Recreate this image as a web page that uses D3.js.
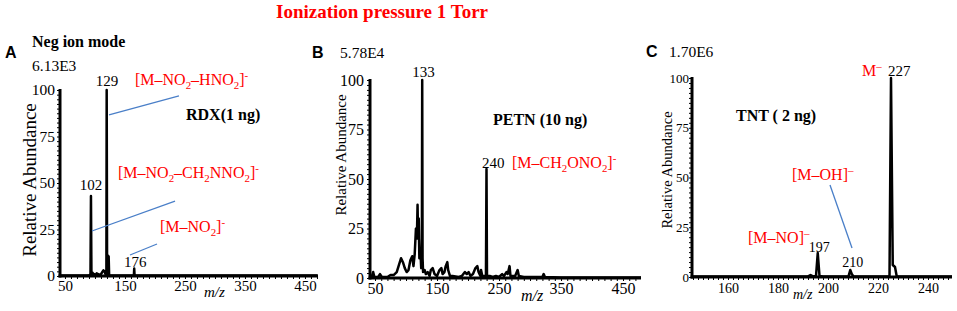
<!doctype html>
<html>
<head>
<meta charset="utf-8">
<script src="https://d3js.org/d3.v7.min.js"></script>
<style>
  body { margin: 0; background: #fff; }
  svg { display: block; }
  svg text { font-family: 'Liberation Serif', 'Times New Roman', serif; fill: #000; }
  svg text.panel { font-family: 'Liberation Sans', Arial, sans-serif; font-weight: 700; }
  svg text.red { fill: #ff0000; }
  svg text.bold { font-weight: 700; }
  .lead { stroke: #4a7fc8; stroke-width: 1.3; }
  .spec { fill: none; stroke: #000; stroke-width: 2.5; stroke-linejoin: round; }
  .axisline { stroke: #000; stroke-width: 3; }
  .minor line { stroke: #000; stroke-width: 1; }
  .minor path, .major path, .major line { display: none; }
</style>
</head>
<body>
<svg width="957" height="311"></svg>
<script>
// tick labels
const yTicks = [0, 25, 50, 75, 100];
const abXTicks = [50, 150, 250, 350, 450];
const cXTicks = [160, 180, 200, 220, 240];

// A: RDX (m/z as drawn, relative abundance)
const aMz = [42, 90, 92.5, 93.3, 94.1, 96, 97.5, 99, 101, 103, 104.5, 106, 108, 110, 112, 114, 116, 117.5, 119, 119.5, 120.2, 121.5, 122.8, 123.6, 126, 164.8, 165.4, 166, 200, 471];
const aAb = [0.3, 0.3, 1, 43, 1, 1.8, 0.5, 1, 0.5, 1.5, 0.5, 1, 0.5, 1, 2, 3, 2.5, 1, 0.5, 100, 1, 11, 10.5, 0.5, 0.3, 0.3, 4, 0.3, 0.3, 0.3];

// B: PETN profile
const bMz = [42, 45, 47, 49, 55, 58, 61, 70, 75, 80, 85, 88, 92, 95, 98, 101, 104, 107, 110, 112, 114, 116, 117.5, 118.6, 119.5, 120.5, 121.5, 123, 124.5, 125.6, 126.1, 126.7, 127.5, 130, 132, 135, 138, 140, 143, 146, 150, 154, 157, 159, 162, 164, 166.6, 168, 171, 175, 185, 190, 195, 198, 201, 204, 208, 212, 215, 217, 220, 221, 223, 228.9, 229.8, 230.6, 235, 240, 245, 250, 255, 258, 262, 264, 267, 268.5, 272, 276, 280, 282, 290, 320, 322, 324, 350, 479];
const bAb = [1, 1, 3, 0.5, 0.5, 2, 0.5, 0.5, 1.5, 1.5, 3, 6, 10, 8, 5, 3, 4, 9, 11, 6, 12, 25, 20, 37, 20, 30, 10, 15, 5, 20, 100, 10, 3, 4, 2, 3, 1, 4, 5, 2, 1, 4, 5, 2, 3, 6, 8, 4, 1, 1, 0.5, 1, 3, 2, 3, 1, 2, 5, 6, 3, 1, 4, 1, 1, 55, 1, 1, 0.5, 1, 0.5, 2, 1, 3, 2, 6, 1, 1, 1, 4, 1, 0.5, 0.5, 2, 0.5, 0.3, 0.3];

// C: TNT profile
const cMz = [145.6, 192, 193, 194, 195.2, 195.9, 196.6, 198, 208.2, 208.9, 209.5, 210.2, 224.6, 225.2, 225.9, 226.8, 227.5, 249.6];
const cAb = [0.3, 0.3, 1, 0.3, 0.5, 12, 0.5, 0.3, 0.3, 3.5, 1.5, 0.3, 0.3, 100, 6, 5, 0.3, 0.3];

const svg = d3.select('svg');

function rich(g, x, y, size, cls, parts, anchor) {
    const t = g.append('text').attr('class', cls).attr('x', x).attr('y', y)
        .attr('font-size', size).attr('text-anchor', anchor || 'start');
    let prev = 0;
    parts.forEach(p => {
        const s = typeof p === 'string' ? p : p[0];
        const kind = typeof p === 'string' ? '' : p[1];
        const shift = kind === 'sub' ? size * 0.22 : kind === 'sup' ? -size * 0.38 : 0;
        t.append('tspan').attr('dy', shift - prev)
            .attr('font-size', kind ? size * 0.68 : size).text(s);
        prev = shift;
    });
    return t;
}

function panel(cfg) {
    const g = svg.append('g');
    const x = d3.scaleLinear().domain(cfg.dom).range([cfg.x0, cfg.x1]);
    const y = d3.scaleLinear().domain([0, 100]).range([cfg.y0, cfg.y1]);

    // minor ticks
    g.append('g').attr('class', 'minor')
        .attr('transform', `translate(${cfg.x0},0)`)
        .call(d3.axisLeft(y).tickValues(d3.range(0, 100.1, 2.5)).tickSize(3).tickFormat(''));
    g.append('g').attr('class', 'minor')
        .attr('transform', `translate(0,${cfg.y0})`)
        .call(d3.axisBottom(x).tickValues(d3.range(cfg.mStart, cfg.dom[1], cfg.mStep)).tickSize(3).tickFormat(''));

    // major labels
    g.append('g').attr('class', 'major')
        .attr('transform', `translate(${cfg.x0},0)`)
        .call(d3.axisLeft(y).tickValues(yTicks).tickSize(0).tickPadding(cfg.yPad))
        .selectAll('text').attr('font-size', cfg.yFont);
    g.append('g').attr('class', 'major')
        .attr('transform', `translate(0,${cfg.y0})`)
        .call(d3.axisBottom(x).tickValues(cfg.xt).tickSize(0).tickPadding(cfg.xPad))
        .selectAll('text').attr('font-size', cfg.xFont);

    // spectrum
    const line = d3.line().x((d, i) => x(cfg.mz[i])).y(d => y(d));
    g.append('path').attr('class', 'spec').attr('d', line(cfg.ab));

    // axes
    g.append('line').attr('class', 'axisline')
        .attr('x1', cfg.x0).attr('x2', cfg.x0).attr('y1', y(100) - 1).attr('y2', cfg.y0 + 1.5);
    g.append('line').attr('class', 'axisline')
        .attr('x1', cfg.x0 - 1.5).attr('x2', cfg.x1).attr('y1', cfg.y0).attr('y2', cfg.y0);

    // y label
    g.append('text')
        .attr('transform', `translate(${cfg.lx},${cfg.ly}) rotate(-90)`)
        .attr('text-anchor', 'middle').attr('font-size', cfg.lFont)
        .text('Relative Abundance');
    // m/z
    g.append('text').attr('x', cfg.mzx).attr('y', cfg.mzy)
        .attr('font-size', cfg.xFont).attr('font-style', 'italic').text('m/z');
    return { g, x, y };
}

// title
svg.append('text').attr('class', 'red bold').attr('x', 382).attr('y', 18)
    .attr('text-anchor', 'middle').attr('font-size', 19).text('Ionization pressure 1 Torr');

// ---------- A ----------
const A = panel({ mz: aMz, ab: aAb, dom: [41.7, 471.7], x0: 60, x1: 318, y0: 276, y1: 90,
    xt: abXTicks, mStart: 50, mStep: 10, yPad: 5, xPad: 4, yFont: 15.5, xFont: 15,
    lFont: 19, lx: 36, ly: 180, mzx: 204, mzy: 297 });
A.g.append('text').attr('class', 'panel').attr('x', 5).attr('y', 58).attr('font-size', 16).text('A');
A.g.append('text').attr('class', 'bold').attr('x', 32).attr('y', 47).attr('font-size', 16).text('Neg ion mode');
A.g.append('text').attr('x', 32).attr('y', 71).attr('font-size', 15.5).text('6.13E3');
A.g.append('text').attr('x', A.x(120)).attr('y', 86).attr('font-size', 15).attr('text-anchor', 'middle').text('129');
A.g.append('text').attr('x', A.x(93.3)).attr('y', 190).attr('font-size', 15).attr('text-anchor', 'middle').text('102');
A.g.append('text').attr('x', A.x(167)).attr('y', 267).attr('font-size', 15).attr('text-anchor', 'middle').text('176');
A.g.append('text').attr('class', 'bold').attr('x', 186).attr('y', 120).attr('font-size', 16).text('RDX(1 ng)');
rich(A.g, 135, 85, 16, 'red', ['[M–NO', ['2', 'sub'], '–HNO', ['2', 'sub'], ']', ['-', 'sup']]);
rich(A.g, 118, 178, 16, 'red', ['[M–NO', ['2', 'sub'], '–CH', ['2', 'sub'], 'NNO', ['2', 'sub'], ']', ['-', 'sup']]);
rich(A.g, 160, 232, 16, 'red', ['[M–NO', ['2', 'sub'], ']', ['-', 'sup']]);
[[123.4, 86.6, 240, 96.8], [95, 24.2, 233.4, 40.3], [158.4, 11.3, 203.4, 17.2]].forEach(l => {
    A.g.append('line').attr('class', 'lead')
        .attr('x1', A.x(l[0])).attr('y1', A.y(l[1])).attr('x2', A.x(l[2])).attr('y2', A.y(l[3]));
});

// ---------- B ----------
const B = panel({ mz: bMz, ab: bAb, dom: [41.9, 479], x0: 370, x1: 641, y0: 278, y1: 80,
    xt: abXTicks, mStart: 50, mStep: 10, yPad: 6, xPad: 5, yFont: 16, xFont: 16,
    lFont: 15, lx: 346, ly: 155, mzx: 521, mzy: 301 });
B.g.append('text').attr('class', 'panel').attr('x', 312).attr('y', 58).attr('font-size', 16).text('B');
B.g.append('text').attr('x', 340).attr('y', 58).attr('font-size', 15.5).text('5.78E4');
B.g.append('text').attr('x', B.x(128)).attr('y', 77).attr('font-size', 15).attr('text-anchor', 'middle').text('133');
B.g.append('text').attr('class', 'bold').attr('x', 493).attr('y', 125).attr('font-size', 16).text('PETN (10 ng)');
B.g.append('text').attr('x', 482).attr('y', 168).attr('font-size', 15).text('240');
rich(B.g, 512, 168, 16, 'red', ['[M–CH', ['2', 'sub'], 'ONO', ['2', 'sub'], ']', ['-', 'sup']]);

// ---------- C ----------
const C = panel({ mz: cMz, ab: cAb, dom: [145.6, 249.6], x0: 692, x1: 952, y0: 277, y1: 78,
    xt: cXTicks, mStart: 146, mStep: 2, yPad: 3, xPad: 6, yFont: 13, xFont: 14,
    lFont: 14.5, lx: 672, ly: 170, mzx: 793, mzy: 299 });
C.g.append('text').attr('class', 'panel').attr('x', 646).attr('y', 57).attr('font-size', 16).text('C');
C.g.append('text').attr('x', 669).attr('y', 57).attr('font-size', 15.5).text('1.70E6');
rich(C.g, 862, 76, 16, 'red', ['M', ['–', 'sup']]);
C.g.append('text').attr('x', 888).attr('y', 76).attr('font-size', 15).text('227');
C.g.append('text').attr('class', 'bold').attr('x', 736).attr('y', 121).attr('font-size', 16).text('TNT ( 2 ng)');
rich(C.g, 792, 180, 16, 'red', ['[M–OH]', ['–', 'sup']]);
rich(C.g, 748, 243, 16, 'red', ['[M–NO]', ['–', 'sup']]);
C.g.append('text').attr('x', C.x(196.5)).attr('y', 252).attr('font-size', 14).attr('text-anchor', 'middle').text('197');
C.g.append('text').attr('x', C.x(209.9)).attr('y', 267).attr('font-size', 14).attr('text-anchor', 'middle').text('210');
C.g.append('line').attr('class', 'lead')
    .attr('x1', C.x(200.8)).attr('y1', C.y(46.2)).attr('x2', C.x(209.6)).attr('y2', C.y(14.6));
</script>
</body>
</html>
